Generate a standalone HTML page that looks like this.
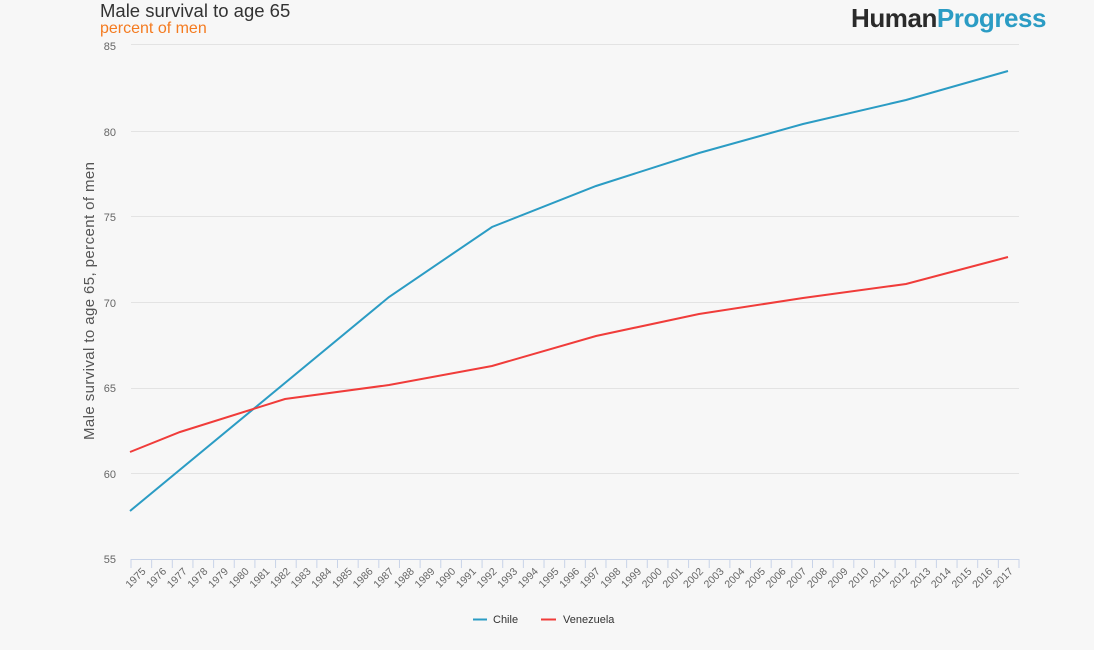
<!DOCTYPE html>
<html><head><meta charset="utf-8"><style>
body{margin:0;background:#f7f7f7;font-family:"Liberation Sans",sans-serif;}
</style></head><body>
<svg width="1094" height="650" xmlns="http://www.w3.org/2000/svg" style="display:block">
<rect width="1094" height="650" fill="#f7f7f7"/>
<text x="100" y="17" font-size="18.5" fill="#333">Male survival to age 65</text>
<text x="100" y="33" font-size="16" fill="#f47b20">percent of men</text>
<text x="851" y="27" font-size="26" font-weight="bold" fill="#2a2a2a" letter-spacing="-0.5" textLength="195">Human<tspan fill="#2b9cc4">Progress</tspan></text>
<g stroke="#e3e3e3" stroke-width="1">
<line x1="131" y1="44.5" x2="1019" y2="44.5"/>
<line x1="131" y1="131.5" x2="1019" y2="131.5"/>
<line x1="131" y1="216.5" x2="1019" y2="216.5"/>
<line x1="131" y1="302.5" x2="1019" y2="302.5"/>
<line x1="131" y1="388.5" x2="1019" y2="388.5"/>
<line x1="131" y1="473.5" x2="1019" y2="473.5"/>
</g>
<g font-size="11" fill="#666" text-anchor="end">
<text x="116" y="50">85</text><text x="116" y="136">80</text><text x="116" y="221">75</text>
<text x="116" y="307">70</text><text x="116" y="392">65</text><text x="116" y="478">60</text><text x="116" y="563">55</text>
</g>
<text transform="translate(94,301) rotate(-90)" font-size="15" fill="#555" text-anchor="middle" textLength="278">Male survival to age 65, percent of men</text>
<line x1="131" y1="559.5" x2="1019" y2="559.5" stroke="#c8d3e8"/>
<g id="ticks" stroke="#c8d3e8"></g>
<g id="lbl" font-size="10.5" fill="#666"></g>
<polyline fill="none" stroke="#2b9cc4" stroke-width="2" points="130,511 389,297 492,227 596,186 699,153 803,124 906,100 1008,71"/>
<polyline fill="none" stroke="#f03c3a" stroke-width="2" points="130,452 180,432 285,399 389,385 492,366 596,336 699,314 803,298 906,284 1008,257"/>
<line x1="473" y1="619.5" x2="487" y2="619.5" stroke="#2b9cc4" stroke-width="2"/>
<text x="493" y="623" font-size="11" fill="#333">Chile</text>
<line x1="541" y1="619.5" x2="556" y2="619.5" stroke="#f03c3a" stroke-width="2"/>
<text x="563" y="623" font-size="11" fill="#333">Venezuela</text>
<script>
var t=document.getElementById('ticks'),l=document.getElementById('lbl'),ns='http://www.w3.org/2000/svg';
var w=888/43;
for(var i=0;i<=43;i++){var x=131+i*w;var e=document.createElementNS(ns,'line');e.setAttribute('x1',x);e.setAttribute('x2',x);e.setAttribute('y1',559);e.setAttribute('y2',568);t.appendChild(e);}
for(var i=0;i<43;i++){var x=131+(i+0.5)*w+5;var e=document.createElementNS(ns,'text');e.setAttribute('text-anchor','end');e.setAttribute('transform','translate('+x+',572) rotate(-45)');e.textContent=1975+i;l.appendChild(e);}
</script>
</svg>
</body></html>
